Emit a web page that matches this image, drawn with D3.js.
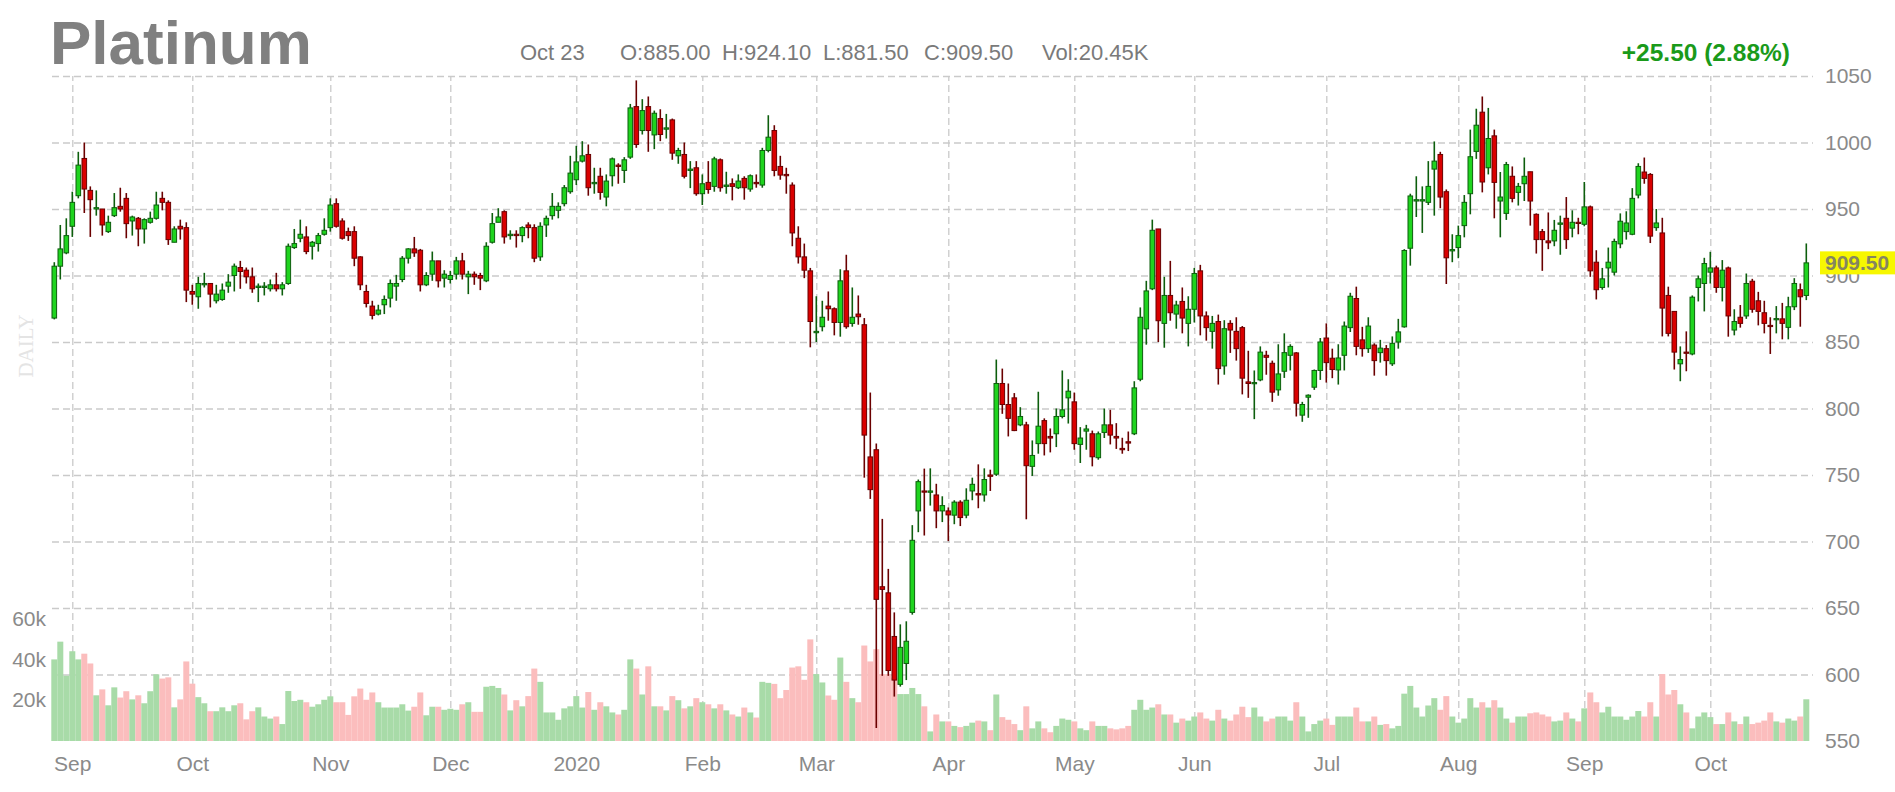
<!DOCTYPE html>
<html>
<head>
<meta charset="utf-8">
<script src="https://cdn.jsdelivr.net/npm/d3@7"></script>
<style>
html,body{margin:0;padding:0;background:#fff;}
svg{display:block;font-family:"Liberation Sans",Arial,sans-serif;}
</style>
</head>
<body>
<svg id="chart" width="1895" height="792"></svg>
<script>
// ---------- DATA ----------
const title = "Platinum";
const headerDate = "Oct 23";
const headerOHLC = ["O:885.00", "H:924.10", "L:881.50", "C:909.50"];
const headerVol = "Vol:20.45K";
const changeText = "+25.50 (2.88%)";
const lastPrice = 909.50;

const monthIdx    = [3, 23, 46, 66, 87, 108, 127, 149, 170, 190, 212, 234, 255, 276];
const monthLabels = ["Sep","Oct","Nov","Dec","2020","Feb","Mar","Apr","May","Jun","Jul","Aug","Sep","Oct"];
const priceTicks  = [550,600,650,700,750,800,850,900,950,1000,1050];
const volTicks    = [20,40,60];

const open = [
868,907,917,937,960,988,964,950,950,933,
945,952,958,941,943,935,940,943,958,955,
925,937,936,888,884,893,894,881,882,892,
900,906,904,899,891,891,890,893,890,894,
921,928,929,922,924,931,936,954,941,933,
933,914,888,877,871,878,883,892,897,913,
920,919,893,901,911,898,897,901,911,899,
901,900,896,925,940,948,930,931,930,938,
936,914,938,945,949,954,963,972,986,991,
969,974.6,959,975,983,979,989,1027,1009,1027,
1005.7,1018,1010,1017,990,991,979,981,961.5,970,
967,987,967,969,966,973,965,970,968,994,
1009,982,976,968,928,914,903.5,857,861.5,877,
875,864.7,903.5,864,871,863,763.6,769,666,661.4,
628.6,592.6,608.3,646.7,723,738,737,735,723,723,
719.8,729.6,719.8,738,736,735,750,750.6,818.8,803,
808,787.7,787.7,756.5,773.6,790.9,779,781,794,808,
805,773,783,781,763,782,787.7,779,770,775,
781,822,859.9,890,935,864,885,871,880.5,864,
874.6,903.5,869.6,858,865.4,832,864,858,860.8,820,
818.8,821.5,840,834,814,828,840,841.8,795,808.5,
816,828.6,853,837.8,829,840,860.8,882.7,851.6,845,
847.7,842,845,833.6,850,861.4,920.5,956,956,955,
980,991,963,918.5,921,937.5,961.5,993.3,1022.8,981,
1005,956,946.7,974.6,962.5,969,978,946,933,926,
926,938.5,943,935.6,940,938.5,951.6,910,891,905.7,
902.5,923.8,933,931,960.5,977.8,976,936,932,885,
873,833.6,842.4,841,891,894,902.5,905.7,891,905.7,
859,868.6,869.6,895.7,881,872,862.5,867,867.4,861,
876.5,889.3,885];

const high = [
910,938,943,963,993,1000,967,964,950,945,
962,966,962,945,944,943,948,963,963,956.5,
937,942,940,893,899,902,894,893,894,901,
909,911,906,906,894,895,897,902,895,924,
935,942,937,926,932,943,958,958,943,936,
937,914.5,893,881,878,885,897,900.5,914.6,920.5,
929,920,902.5,918,911,904,903.5,914,917,903.5,
903,902,925,947,950.6,949,934,934,937,940,
938.5,940,945,962,955,968,990,997.5,1001,998.5,
981,981,976,988.7,984.4,989,1029,1046.7,1032.6,1034.6,
1024,1025,1021.5,1018,996,1000,986,986,976,986,
989.3,988,978,973,976,974.6,976,976,996,1020.5,
1013,990,981,970,937,924,905.7,884.4,881,888,
876,904.7,915.6,891,885,868,812,773.6,717,679.4,
646.7,637.7,640,712.3,746.6,754.8,755,743.4,734,725.6,
731,731,740,748,758,755,754,836.8,830,818.8,
811.6,801,790,776,812.6,792.6,785,800,828.6,822,
812,786,787.7,783.4,782.7,800,799,789,778,782.7,
820.5,876,896,942,935,899,911,881,891,884.4,
905.7,908,873,869.6,870.6,866.4,866.4,868.6,862,843.4,
828.6,846.7,843.4,836,848.3,856.5,848.3,842.4,805,810.6,
829.3,853,864,845,848.3,865.4,887,891.6,861.4,868.6,
849,851.6,847.7,854.2,867.4,919.8,961.5,974.6,967,986,
1000.8,993,964.7,931,937.5,960.5,1009.7,1025.4,1034.6,1026,
1009.7,977.8,985.4,982,969.6,988.7,978,946.7,935,947.4,
941.8,945,959,949,943.4,970.3,952.6,919,905.7,921,
927.7,946.7,948.3,965.7,984.4,988.7,977,950,943.4,891.6,
873,846.7,858,885,900,913.3,917.8,907.4,911.6,906.7,
874.6,877.8,901.5,897.5,887.7,881,868.6,877,879.4,884,
898,894,924.1];

const low = [
867,897,916,929,958,947,929,945,930,932,
944,948,928,930,922,924,939,942,949,923,
925,927,880,878,875,891,876,879,881,887,
888,890,894,887,880,885,888,888,885,893,
920,925,916,912,918,930,933,936,927,926,
907,889,876,867,870,871,876,881,895,909,
914,888,892,896,891,891,894,897,897,886,
893,889,895,924,940,924,927,921,925,928,
910,911,929,942,943,952,961.5,968,985,960,
961.5,957,952,967,969,969.6,987.7,996,1006,993,
995,1001,1003,987,984,973,965.7,960,953,961.5,
963,963,961.5,956.5,965,957,963,966,966,992.6,
974.6,972,961.5,922,909,898,846,850,858,866,
855,854,860,861.5,863,748,732,559.8,599,599,
583.4,590.9,595.8,645,707,704.5,727,710,714.6,700.3,
713,711.6,717.5,731,725,730,738,749.3,796,779,
783,786.7,716.7,749.3,766,764.7,767,771,792.6,788.7,
769,759,769,756.5,761.5,777.8,773,769.6,766,768,
780,820.5,848,889,850,845.7,866,860,856.5,846.7,
864.7,855,851,845,818,825.4,841.8,836,810.6,808,
792,820.5,825.4,805,809.6,823,828.6,794,790,793,
814,821.5,819.5,822.8,818,828.6,857.5,840,839,841.8,
824.7,834.5,824.7,832,845,860.8,907.4,944,932,953,
945,950.6,893.6,910,913,928.7,946,987.7,962.5,976,
943,928.7,941.8,955,952.6,956,937.5,916.5,903.5,919.8,
922,915.6,920,928.7,931,937,899,882,889.3,891,
900,920.5,927,930.3,958,969,924.4,933.6,854.2,854.2,
829.3,820.5,828,840,880.5,873,894,887,880.5,854,
855,860.8,867.4,872,862.5,856.5,841,856.5,852,852,
874,861.5,881.5];

const close = [
907,920,930,955,983,965,957,951,938,940,
951,950,939,944,935,942,943,953,955,927,
935,935,889,886,894,894,886,886,889,895,
907,903,899,890,892,892,893,890,893,922,
924,931,918,925,930,934,953,937,928,930,
913,893,879,870,874,882,894,894,913,920,
917,893,900,911,896,901,900,911,901,901,
899,898,922,939,944,929,931,930,936,936,
913,937,943,952,952,966,977,985.4,990,966,
970,962.5,971,987.7,982,987,1026,998.5,1024,1009,
1022,1006,1011,992,994,974.6,980,961.5,969,964.7,
987.7,966,968,967,971,966,975,969,994,1004,
979,975.5,975,932,914,904,865.4,858,868.6,875,
864.7,896,861.5,868.6,869,780,739,656.5,664,603,
595.8,620.4,625,700.9,745,737.5,738,723,727,720,
729.6,718,731,743,735,746.6,749,818.8,803,792.6,
783.4,794,757,764.7,786.7,773.6,777.8,794,799,813,
773.6,777.8,784.6,763.7,781,787.7,780,777.8,769,774,
815.5,868.6,888.4,934,866,885,872,877.8,868,874.6,
901.5,869.6,860.8,864,830,860,859,845,822.8,818.8,
819.5,842.4,838.5,812.3,826,842,846.7,804,803,810,
828.6,850,834.5,829.3,838,862,884.4,846.7,845,862,
836,845.4,836,849,857.6,918.8,959.8,957,957,967,
986,959,913.3,919.5,930,955,989.3,1013,970.3,1003,
970,959,983.4,958,967,974.6,956,927,927,924.6,
934,939.5,927,940,939.5,951.6,903.5,889.3,897.5,910,
925.6,940.8,939.5,958,982,973,929.6,939.5,875.5,856.5,
842.4,836.8,841.5,883.7,897.5,909,905.7,891,904,869.6,
865.4,864,894,874.6,873,864,862,867.6,864,876.5,
894,884,909.5];

// volume in thousands
const volume = [
40,48.7,32,44,40,42.8,38,22.4,25.3,17.5,
26.3,21.3,24.4,20.4,22.4,18.5,24.4,32.7,30.6,31.2,
16.5,20.4,39,28.1,21.5,18.5,14.6,14.6,16.5,14.6,
17.5,18.5,10.6,14.6,16.5,12,11,12,8.3,24.5,
19.6,20.2,19,16.8,18,20.2,21.9,19,19,12.8,
21.9,25.7,20.2,23.8,19,16.4,16.4,16.4,18,14.9,
16.8,23.8,12.6,16.8,16.8,15.3,15.8,15.3,18,19,
14.3,14.3,26.6,27,26,22.8,15,20,17,22,
35.5,29,14,14,10.4,16,17,22,16.4,24,
15.3,19,17,14,13,15.3,40,35.5,22.8,36.6,
17,17,15,22,20,16,17,21,19,18,
16,18,15,13,12,16.4,14,11.5,29,28.5,
28,21,25,36,36.6,30,49.8,32.8,28.7,22.3,
20.2,40.9,29,21,19,46.8,39,45,32.8,32.8,
31,23,23,26,23,17,4.7,13,9.6,9.6,
7.4,6.8,7.4,9,10,9.6,5.3,22.8,11.7,10.4,
8.3,5.3,17,6.2,9.6,6.2,4.3,7.4,11,10.4,
9.6,6.2,5.3,9.6,7.4,7.4,6.2,5.7,6.2,7.4,
15.3,20.2,15.3,16.4,18,13,13,9,11,10,
12,14,11,10,15.3,11,10,13,16.8,11.7,
16.4,12,9.6,11,12,12,10,19,12,4.7,
8.3,10,11,7.9,12,12,12,16.4,9.6,9.6,
12,7.9,8.3,6.2,7.4,23.2,27,16.4,12,17.4,
21,15.3,22,12,9,11,21,16.4,19,16.4,
20,16.4,11,9,12,12,13.6,14,13,12,
9.6,10,14,11,9.6,16,23.8,19,14,16.8,
12,12,10.4,12,14.7,12,19,12,32.8,22.8,
25,18,14,6.2,12,14,11.7,8.3,8.3,14,
9.6,8.3,12,8.3,9,10,14,9.6,9,11,
10,12,20.45];

// ---------- DRAW ----------
const n = close.length;
const data = d3.range(n).map(i => ({i, o: open[i], h: high[i], l: low[i], c: close[i], v: volume[i]}));

const svg = d3.select("#chart");
const FONT = '"Liberation Sans", Arial, sans-serif';

const x = d3.scaleLinear().domain([0, n - 1]).range([54.3, 54.3 + 6.0 * (n - 1)]);
const y = d3.scaleLinear().domain([550, 1050]).range([741, 76]);
const vy = d3.scaleLinear().domain([0, 60]).range([741, 618.6]);

const gridLeft = 52, gridRight = 1813;

// horizontal grid
const hg = svg.append("g").attr("transform", `translate(${gridLeft},0)`)
  .call(d3.axisLeft(y).tickValues(priceTicks.filter(t => t > 550)).tickSize(-(gridRight - gridLeft)).tickFormat(""));
hg.select(".domain").remove();
hg.selectAll("line").attr("stroke", "#cacaca").attr("stroke-width", 1.3).attr("stroke-dasharray", "7,4");

// vertical grid
const vg = svg.append("g").attr("transform", `translate(0,741)`)
  .call(d3.axisBottom(x).tickValues(monthIdx).tickSize(-(741 - 76)).tickFormat(""));
vg.select(".domain").remove();
vg.selectAll("line").attr("stroke", "#cacaca").attr("stroke-width", 1.3).attr("stroke-dasharray", "7,4");

// DAILY watermark
svg.append("text").attr("transform", "translate(33,346) rotate(-90)")
  .attr("text-anchor", "middle").attr("font-family", '"Liberation Serif", serif')
  .attr("font-size", 21).attr("fill", "#e4e4e4").text("DAILY");

// volume bars
const volColor = d => d.c >= d.o ? "#a8dba8" : "#fbbdbd";
svg.append("g").selectAll("rect").data(data).join("rect")
  .attr("x", d => x(d.i) - 3).attr("width", 6)
  .attr("y", d => vy(d.v)).attr("height", d => 741 - vy(d.v))
  .attr("fill", volColor);

// candles
const up = d => d.c >= d.o;
const cg = svg.append("g");
cg.selectAll("line").data(data).join("line")
  .attr("x1", d => x(d.i)).attr("x2", d => x(d.i))
  .attr("y1", d => y(d.h)).attr("y2", d => y(d.l))
  .attr("stroke", d => up(d) ? "#0d5e0d" : "#6a0000").attr("stroke-width", 1.6);
cg.selectAll("rect").data(data).join("rect")
  .attr("x", d => x(d.i) - 2.3).attr("width", 4.6)
  .attr("y", d => y(Math.max(d.o, d.c)))
  .attr("height", d => Math.max(1.2, Math.abs(y(d.o) - y(d.c))))
  .attr("fill", d => up(d) ? "#1fd41f" : "#d90000")
  .attr("stroke", d => up(d) ? "#0d5e0d" : "#6a0000").attr("stroke-width", 1);

// right price axis
const ra = svg.append("g").attr("transform", "translate(1825,0)")
  .call(d3.axisRight(y).tickValues(priceTicks).tickSize(0).tickPadding(0).tickFormat(d3.format("d")));
ra.select(".domain").remove();
ra.selectAll("text").attr("font-family", FONT).attr("font-size", 21).attr("fill", "#8a8a8a");

// left volume axis
const la = svg.append("g").attr("transform", "translate(46,0)")
  .call(d3.axisLeft(vy).tickValues(volTicks).tickSize(0).tickPadding(0).tickFormat(d => d + "k"));
la.select(".domain").remove();
la.selectAll("text").attr("font-family", FONT).attr("font-size", 21).attr("fill", "#8a8a8a");

// bottom month axis
const ba = svg.append("g").attr("transform", "translate(0,741)")
  .call(d3.axisBottom(x).tickValues(monthIdx).tickSize(0).tickPadding(15).tickFormat((d, k) => monthLabels[k]));
ba.select(".domain").remove();
ba.selectAll("text").attr("font-family", FONT).attr("font-size", 21).attr("fill", "#8a8a8a");

// last price label
const lpY = y(lastPrice);
svg.append("rect").attr("x", 1820).attr("y", lpY - 11.5).attr("width", 75).attr("height", 23).attr("fill", "#f7f700");
svg.append("text").attr("x", 1825).attr("y", lpY).attr("dy", "0.36em")
  .attr("font-family", FONT).attr("font-size", 21).attr("font-weight", "bold").attr("fill", "#858560")
  .text(d3.format(".2f")(lastPrice));

// title & header
svg.append("text").attr("x", 50).attr("y", 64).attr("font-family", FONT).attr("font-size", 62)
  .attr("font-weight", "bold").attr("fill", "#808080").text(title);

const hdr = [[520, headerDate], [620, headerOHLC[0]], [722, headerOHLC[1]], [823, headerOHLC[2]], [924, headerOHLC[3]], [1042, headerVol]];
svg.append("g").selectAll("text").data(hdr).join("text")
  .attr("x", d => d[0]).attr("y", 60).attr("font-family", FONT).attr("font-size", 22)
  .attr("fill", "#7a7a7a").text(d => d[1]);

svg.append("text").attr("x", 1790).attr("y", 61).attr("text-anchor", "end")
  .attr("font-family", FONT).attr("font-size", 24.5).attr("font-weight", "bold")
  .attr("fill", "#1a9a1a").text(changeText);
</script>
</body>
</html>
